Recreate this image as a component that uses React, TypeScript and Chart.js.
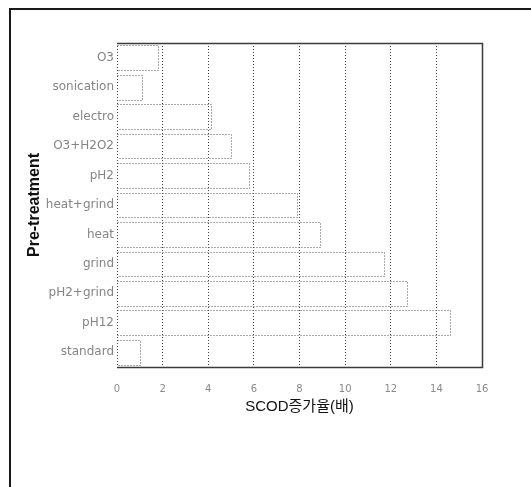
import { useEffect, useRef } from 'react';
import { Chart, registerables } from 'chart.js';

Chart.register(...registerables);

// Pre-treatment methods, listed top to bottom
const treatments = [
  'O3',
  'sonication',
  'electro',
  'O3+H2O2',
  'pH2',
  'heat+grind',
  'heat',
  'grind',
  'pH2+grind',
  'pH12',
  'standard',
];

// SCOD increase ratio (times) for each method
const scodIncrease = [1.8, 1.1, 4.1, 5.0, 5.8, 7.9, 8.9, 11.7, 12.7, 14.6, 1.0];

// Value-axis tick labels
const xTicks = [0, 2, 4, 6, 8, 10, 12, 14, 16];

const W = 531;
const H = 487;
const SANS = '"DejaVu Sans", "Liberation Sans", Arial, sans-serif';
const KOR = '"Liberation Sans", "Noto Sans CJK KR", Arial, sans-serif';

// Outer page frame (left and top rules) plus white background
const framePlugin = {
  id: 'pageFrame',
  beforeDraw(chart: Chart) {
    const ctx = chart.ctx;
    ctx.save();
    ctx.fillStyle = '#ffffff';
    ctx.fillRect(0, 0, chart.width, chart.height);
    ctx.strokeStyle = '#1a1a1a';
    ctx.lineWidth = 2;
    ctx.beginPath();
    ctx.moveTo(10, H);
    ctx.lineTo(10, 9);
    ctx.lineTo(W, 9);
    ctx.stroke();
    ctx.restore();
  },
};

// Dotted outlines of the bars, taken from the bar elements the scales laid out
const dottedBarsPlugin = {
  id: 'dottedBars',
  afterDatasetsDraw(chart: Chart) {
    const ctx = chart.ctx;
    const meta = chart.getDatasetMeta(0);
    ctx.save();
    ctx.strokeStyle = '#555';
    ctx.lineWidth = 1;
    ctx.setLineDash([1, 2]);
    meta.data.forEach((el: any) => {
      const { x, y, base, height } = el.getProps(['x', 'y', 'base', 'height'], true);
      const left = Math.min(x, base);
      const right = Math.max(x, base);
      const top = Math.round(y - height / 2) + 0.5;
      const bottom = Math.round(y + height / 2) + 0.5;
      ctx.beginPath();
      ctx.moveTo(left, top);
      ctx.lineTo(Math.round(right) + 0.5, top);
      ctx.lineTo(Math.round(right) + 0.5, bottom);
      ctx.lineTo(left, bottom);
      ctx.stroke();
    });
    ctx.restore();
  },
};

// Box around the plotting area: solid top/right/bottom, dotted left
const plotBoxPlugin = {
  id: 'plotBox',
  afterDatasetsDraw(chart: Chart) {
    const { ctx, chartArea: a } = chart;
    ctx.save();
    ctx.strokeStyle = '#3a3a3a';
    ctx.lineWidth = 1.5;
    ctx.beginPath();
    ctx.moveTo(a.left, a.top + 0.5);
    ctx.lineTo(a.right + 0.5, a.top + 0.5);
    ctx.lineTo(a.right + 0.5, a.bottom + 0.5);
    ctx.lineTo(a.left, a.bottom + 0.5);
    ctx.stroke();
    ctx.lineWidth = 1;
    ctx.strokeStyle = '#444';
    ctx.setLineDash([1, 2]);
    ctx.beginPath();
    ctx.moveTo(a.left + 0.5, a.top);
    ctx.lineTo(a.left + 0.5, a.bottom);
    ctx.stroke();
    ctx.restore();
  },
};

export default function App() {
  const canvasRef = useRef<HTMLCanvasElement | null>(null);

  useEffect(() => {
    const canvas = canvasRef.current;
    if (!canvas) return;
    const chart = new Chart(canvas, {
      type: 'bar',
      data: {
        labels: treatments,
        datasets: [
          {
            label: 'SCOD',
            data: scodIncrease,
            backgroundColor: 'rgba(255,255,255,0)',
            borderWidth: 0,
            barPercentage: 0.84,
            categoryPercentage: 1,
          },
        ],
      },
      options: {
        indexAxis: 'y',
        animation: false,
        responsive: false,
        devicePixelRatio: 1,
        layout: { padding: { top: 43, right: 49, left: 0, bottom: 0 } },
        plugins: {
          legend: { display: false },
          tooltip: { enabled: false },
        },
        scales: {
          x: {
            type: 'linear',
            min: 0,
            max: 16,
            afterBuildTicks: (scale: any) => {
              scale.ticks = xTicks.map((v) => ({ value: v }));
            },
            afterFit: (scale: any) => {
              scale.height = 120;
            },
            grid: { color: '#444', lineWidth: 1, drawTicks: false },
            border: { display: false, dash: [1, 2] },
            ticks: {
              padding: 16,
              color: '#8a8a8a',
              font: { size: 10, family: SANS },
            },
            title: {
              display: true,
              text: 'SCOD증가율(배)',
              color: '#111',
              font: { size: 15, family: KOR },
              padding: { top: 0, bottom: 71 },
            },
          },
          y: {
            type: 'category',
            afterFit: (scale: any) => {
              scale.width = 117;
            },
            grid: { display: false, drawTicks: false },
            border: { display: false },
            ticks: {
              padding: 3,
              color: '#858585',
              font: { size: 12, family: SANS },
            },
            title: {
              display: true,
              text: 'Pre-treatment',
              color: '#111',
              font: { size: 16, weight: 'bold', family: '"Liberation Sans", Arial, sans-serif' },
              padding: { top: 25, bottom: 0 },
            },
          },
        },
      },
      plugins: [framePlugin, dottedBarsPlugin, plotBoxPlugin],
    });

    return () => chart.destroy();
  }, []);

  return (
    <div style={{ position: 'fixed', left: 0, top: 0, width: W, height: H, background: '#fff' }}>
      <canvas ref={canvasRef} width={W} height={H} style={{ width: W, height: H, display: 'block' }} />
    </div>
  );
}
